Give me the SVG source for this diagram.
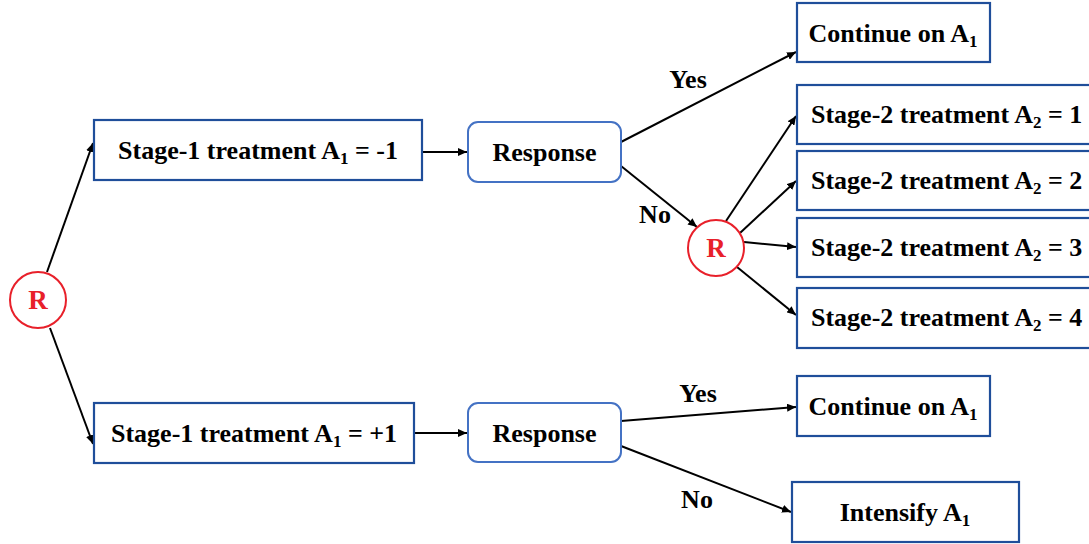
<svg xmlns="http://www.w3.org/2000/svg" width="1089" height="544" viewBox="0 0 1089 544">
<defs>
<style>
.box{fill:#fff;stroke:#1f4e9a;stroke-width:2.2}
.resp{fill:#fff;stroke:#4472c4;stroke-width:2}
.rc{fill:#fff;stroke:#e8202a;stroke-width:2}
.t{font-family:"Liberation Serif","Times New Roman",serif;font-weight:bold;font-size:26px;fill:#000}
.sub{font-size:17px}
.rt{font-family:"Liberation Serif","Times New Roman",serif;font-weight:bold;font-size:27px;fill:#e8202a;text-anchor:middle}
.c{text-anchor:middle}
.ln{stroke:#000;stroke-width:2;fill:none;marker-end:url(#ah)}
</style>
<marker id="ah" markerUnits="userSpaceOnUse" markerWidth="10" markerHeight="8" refX="9" refY="4" orient="auto">
<path d="M0,0 L9,4 L0,8 Z" fill="#000"/>
</marker>
</defs>
<g id="connectors">
<line class="ln" x1="47" y1="272" x2="93" y2="143"/>
<line class="ln" x1="50" y1="328" x2="93" y2="444"/>
<line class="ln" x1="422" y1="152" x2="467" y2="152"/>
<line class="ln" x1="414" y1="433" x2="467" y2="433"/>
<line class="ln" x1="621" y1="142" x2="796" y2="52"/>
<line class="ln" x1="621" y1="166" x2="697" y2="227"/>
<line class="ln" x1="726" y1="221" x2="796" y2="116"/>
<line class="ln" x1="740" y1="233" x2="796" y2="181"/>
<line class="ln" x1="744" y1="242" x2="796" y2="247"/>
<line class="ln" x1="737" y1="267" x2="796" y2="315"/>
<line class="ln" x1="621" y1="421" x2="796" y2="407"/>
<line class="ln" x1="621" y1="446" x2="791" y2="512"/>
<text class="t c" x="688" y="88">Yes</text>
<text class="t c" x="655" y="223">No</text>
<text class="t c" x="698" y="402">Yes</text>
<text class="t c" x="697" y="508">No</text>
</g>
<g id="r1">
<circle class="rc" cx="38" cy="300" r="28"/>
<text class="rt" x="38" y="309">R</text>
</g>
<g id="stage1-neg">
<rect class="box" x="94" y="120" width="328" height="60"/>
<text class="t c" x="258" y="159">Stage-1 treatment A<tspan class="sub" dy="5">1</tspan><tspan dy="-5"> = -1</tspan></text>
</g>
<g id="stage1-pos">
<rect class="box" x="94" y="403" width="320" height="60"/>
<text class="t c" x="254" y="442">Stage-1 treatment A<tspan class="sub" dy="5">1</tspan><tspan dy="-5"> = +1</tspan></text>
</g>
<g id="response1">
<rect class="resp" x="468" y="122" width="153" height="60" rx="10"/>
<text class="t c" x="544.5" y="161">Response</text>
</g>
<g id="response2">
<rect class="resp" x="468" y="403" width="153" height="59" rx="10"/>
<text class="t c" x="544.5" y="442">Response</text>
</g>
<g id="continue1">
<rect class="box" x="797" y="3" width="193" height="59"/>
<text class="t c" x="893" y="42">Continue on A<tspan class="sub" dy="5">1</tspan></text>
</g>
<g id="r2">
<circle class="rc" cx="716" cy="248" r="28"/>
<text class="rt" x="716" y="257">R</text>
</g>
<g id="s2-1">
<rect class="box" x="797" y="85" width="300" height="59"/>
<text class="t" x="811" y="123">Stage-2 treatment A<tspan class="sub" dy="5">2</tspan><tspan dy="-5"> = 1</tspan></text>
</g>
<g id="s2-2">
<rect class="box" x="797" y="151" width="300" height="59"/>
<text class="t" x="811" y="189">Stage-2 treatment A<tspan class="sub" dy="5">2</tspan><tspan dy="-5"> = 2</tspan></text>
</g>
<g id="s2-3">
<rect class="box" x="797" y="218" width="300" height="59"/>
<text class="t" x="811" y="256">Stage-2 treatment A<tspan class="sub" dy="5">2</tspan><tspan dy="-5"> = 3</tspan></text>
</g>
<g id="s2-4">
<rect class="box" x="797" y="288" width="300" height="60"/>
<text class="t" x="811" y="326">Stage-2 treatment A<tspan class="sub" dy="5">2</tspan><tspan dy="-5"> = 4</tspan></text>
</g>
<g id="continue2">
<rect class="box" x="797" y="376" width="193" height="60"/>
<text class="t c" x="893" y="415">Continue on A<tspan class="sub" dy="5">1</tspan></text>
</g>
<g id="intensify">
<rect class="box" x="792" y="482" width="227" height="60"/>
<text class="t c" x="905" y="521">Intensify A<tspan class="sub" dy="5">1</tspan></text>
</g>
</svg>
